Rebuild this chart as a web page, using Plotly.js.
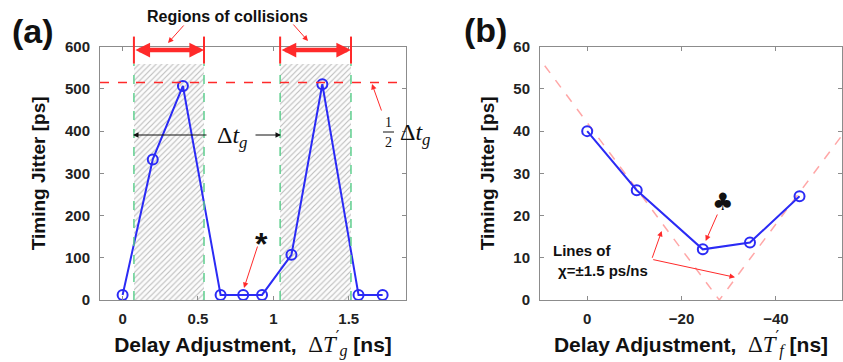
<!DOCTYPE html>
<html>
<head>
<meta charset="utf-8">
<script src="https://cdn.plot.ly/plotly-3.0.1.min.js"></script>
<style>html,body{margin:0;padding:0;background:#fff;}</style>
</head>
<body>
<div id="chart" style="width:843px;height:362px;"></div>
<script>
// ---- Data (a) ----
const delayA = [0, 0.2, 0.4, 0.65, 0.8, 0.925, 1.12, 1.325, 1.565, 1.725];
const jitterA = [12, 333, 507, 12, 12, 12, 107, 511, 12, 12];
const regionStart = [0.075, 1.045];
const regionEnd = [0.54, 1.515];
const regionTop = [560, 560];
const regionArrowY = 592;
const regionBarTop = 624;
const halfDtg = 515;
const yTicksA = [0, 100, 200, 300, 400, 500, 600];
const xTicksA = [0, 0.5, 1, 1.5];

// ---- Data (b) ----
const delayB = [0, -10.5, -24.5, -34.5, -45];
const jitterB = [40, 26, 12, 13.6, 24.6];
const chiX = [9, -28, -54];
const chiY = [55.5, 0, 39];
const yTicksB = [0, 10, 20, 30, 40, 50, 60];
const xTicksB = [0, -20, -40];

const W = 843, H = 362;
const PX = v => v / W;
const PY = v => 1 - v / H;
const yDom = [PY(300), PY(46.7)];
const yRangeA = [0, 600];
const toPaperYA = v => yDom[0] + (v - yRangeA[0]) / (yRangeA[1] - yRangeA[0]) * (yDom[1] - yDom[0]);

const blue = '#2b2bf5';
const red = '#ff2a2a';
const sans = 'Liberation Sans, Arial, sans-serif';
const serif = 'Liberation Serif, Times New Roman, serif';

const traces = [
  {
    type: 'bar', xaxis: 'x', yaxis: 'y',
    x: regionStart.map((s, i) => (s + regionEnd[i]) / 2),
    width: regionStart.map((s, i) => regionEnd[i] - s),
    y: regionTop, base: 0,
    marker: {color: '#bdbdbd', line: {width: 0},
      pattern: {shape: '/', fillmode: 'replace', fgcolor: '#bdbdbd', bgcolor: '#fcfcfc', size: 4, solidity: 0.28}},
    hoverinfo: 'skip'
  },
  {
    type: 'scatter', mode: 'lines+markers', xaxis: 'x', yaxis: 'y',
    x: delayA, y: jitterA,
    line: {color: blue, width: 2},
    marker: {symbol: 'circle-open', size: 10, color: blue, line: {width: 2, color: blue}}
  },
  {
    type: 'scatter', mode: 'lines', xaxis: 'x2', yaxis: 'y2',
    x: chiX, y: chiY,
    line: {color: 'rgba(255,120,120,0.65)', width: 1.5, dash: 'dash'}
  },
  {
    type: 'scatter', mode: 'lines+markers', xaxis: 'x2', yaxis: 'y2',
    x: delayB, y: jitterB,
    line: {color: blue, width: 2},
    marker: {symbol: 'circle-open', size: 10, color: blue, line: {width: 2, color: blue}}
  }
];

const axisCommon = {
  showgrid: false, zeroline: false, showline: true, linecolor: '#8c8c8c', linewidth: 1,
  mirror: 'ticks', ticks: 'inside', ticklen: 4, tickcolor: '#8c8c8c',
  tickfont: {family: sans, size: 15, color: '#222', weight: 'bold'},
  automargin: false, fixedrange: true
};

const mathSpan = sub => '<span style="font-family:Liberation Serif;font-weight:normal;font-size:23px">Δ<i>T</i><sup><span style="font-family:DejaVu Serif">′</span></sup><sub><i>' + sub + '</i></sub></span>';

const layout = {
  width: W, height: H,
  margin: {l: 0, r: 0, t: 0, b: 0},
  paper_bgcolor: '#fff', plot_bgcolor: '#fff',
  showlegend: false, barmode: 'overlay', bargap: 0,
  xaxis: Object.assign({}, axisCommon, {
    domain: [PX(100), PX(406)], range: [-0.15, 1.88], anchor: 'y',
    tickvals: xTicksA, ticktext: xTicksA.map(String), ticklabelstandoff: 5,
    title: {text: 'Delay Adjustment,&nbsp;&nbsp;' + mathSpan('g') + ' [ns]', standoff: 7,
      font: {family: sans, size: 21, color: '#111', weight: 'bold'}}
  }),
  yaxis: Object.assign({}, axisCommon, {
    domain: yDom, range: yRangeA, anchor: 'x',
    tickvals: yTicksA, ticklabelstandoff: 6,
    title: {text: 'Timing Jitter [ps]', standoff: 14,
      font: {family: sans, size: 19, color: '#111', weight: 'bold'}}
  }),
  xaxis2: Object.assign({}, axisCommon, {
    domain: [PX(540), PX(842)], range: [10, -54], anchor: 'y2',
    tickvals: xTicksB, ticklabelstandoff: 5,
    title: {text: 'Delay Adjustment,&nbsp;&nbsp;' + mathSpan('f') + ' [ns]', standoff: 7,
      font: {family: sans, size: 21, color: '#111', weight: 'bold'}}
  }),
  yaxis2: Object.assign({}, axisCommon, {
    domain: yDom, range: [0, 60], anchor: 'x2',
    tickvals: yTicksB, ticklabelstandoff: 6,
    title: {text: 'Timing Jitter [ps]', standoff: 13,
      font: {family: sans, size: 19, color: '#111', weight: 'bold'}}
  }),
  shapes: [],
  annotations: []
};

// green dashed region edges & red end bars
regionStart.forEach((s, i) => {
  [s, regionEnd[i]].forEach(xv => {
    layout.shapes.push({type: 'line', xref: 'x', yref: 'y', x0: xv, x1: xv, y0: 0, y1: regionTop[i],
      line: {color: '#5fcf8f', width: 1.5, dash: 'dash'}});
    layout.shapes.push({type: 'line', xref: 'x', yref: 'paper', x0: xv, x1: xv,
      y0: toPaperYA(regionTop[i]), y1: toPaperYA(regionBarTop),
      line: {color: red, width: 2}});
  });
  layout.annotations.push({xref: 'x', yref: 'y', axref: 'x', ayref: 'y',
    x: regionEnd[i], y: regionArrowY, ax: s, ay: regionArrowY, text: '',
    showarrow: true, arrowside: 'end+start', arrowhead: 2, arrowsize: 0.65, arrowwidth: 4.5,
    arrowcolor: red, standoff: 0, startstandoff: 0});
});
// half delta t_g dashed line
layout.shapes.push({type: 'line', xref: 'x domain', yref: 'y', x0: 0, x1: 1, y0: halfDtg, y1: halfDtg,
  line: {color: red, width: 1.5, dash: 'dash'}});
// fraction bar for 1/2
layout.shapes.push({type: 'line', xref: 'paper', yref: 'paper', x0: PX(383), x1: PX(394), y0: PY(132), y1: PY(132),
  line: {color: '#111', width: 1}});

const A = layout.annotations;
function txt(x, y, text, opts) {
  A.push(Object.assign({xref: 'paper', yref: 'paper', x: PX(x), y: PY(y), text: text, showarrow: false,
    xanchor: 'center', yanchor: 'middle', font: {family: sans, size: 15, color: '#111', weight: 'bold'}}, opts || {}));
}
function arrow(hx, hy, tx, ty, color) {
  A.push({xref: 'paper', yref: 'paper', x: PX(hx), y: PY(hy), ax: tx - hx, ay: ty - hy, text: '',
    showarrow: true, arrowhead: 2, arrowsize: 1.1, arrowwidth: 1, arrowcolor: color, standoff: 0});
}

txt(33, 31, '(a)', {font: {family: sans, size: 34, color: '#111', weight: 'bold'}});
txt(485, 30, '(b)', {font: {family: sans, size: 34, color: '#111', weight: 'bold'}});
txt(227.5, 16, 'Regions of collisions', {font: {family: sans, size: 16, color: '#111', weight: 'bold'}});
arrow(168, 43, 185, 24, red);
arrow(308, 41, 292, 23, red);

txt(232, 137, 'Δ<i>t</i><sub><i>g</i></sub>', {font: {family: serif, size: 24, color: '#111'}});
arrow(133, 135, 208, 135, '#111');
arrow(281, 135, 254, 135, '#111');

txt(388, 122, '1', {font: {family: serif, size: 14, color: '#111'}});
txt(388, 143, '2', {font: {family: serif, size: 14, color: '#111'}});
txt(398, 134, 'Δ<i>t</i><sub><i>g</i></sub>', {xanchor: 'left', font: {family: serif, size: 24, color: '#111'}});
arrow(372, 84, 382, 112, red);

txt(261, 244, '*', {font: {family: sans, size: 32, color: '#111', weight: 'bold'}});
arrow(244, 288, 258, 245, red);

txt(722.7, 202, '♣', {font: {family: 'DejaVu Sans', size: 24, color: '#111'}});
arrow(705.7, 241, 718, 213, red);

txt(551, 250, 'Lines of', {xanchor: 'left'});
txt(556, 270, 'χ=±1.5 ps/ns', {xanchor: 'left'});
arrow(661.7, 231, 651.7, 259.3, red);
arrow(735, 277.3, 651.7, 259.3, red);

Plotly.newPlot('chart', traces, layout, {displayModeBar: false, staticPlot: true});
</script>
</body>
</html>
